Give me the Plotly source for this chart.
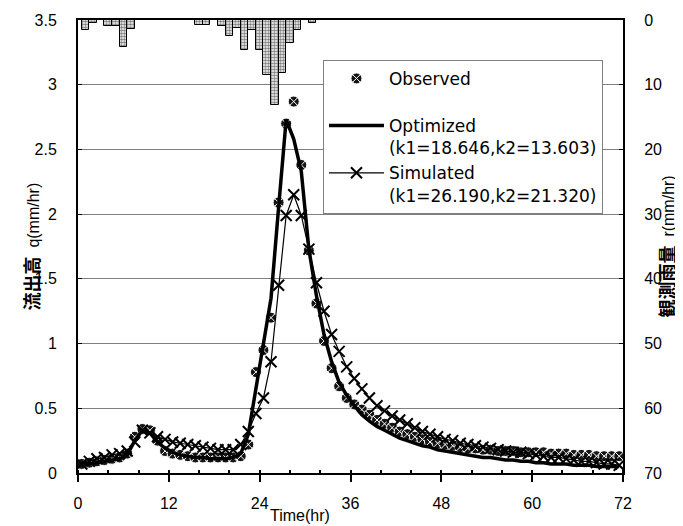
import plotly.graph_objects as go

# ---- data ----
time_hr = [i + 0.5 for i in range(72)]

observed = [0.07, 0.08, 0.09, 0.10, 0.11, 0.12, 0.15, 0.28, 0.34, 0.33,
            0.25, 0.17, 0.15, 0.14, 0.13, 0.12, 0.12, 0.12, 0.12, 0.12,
            0.12, 0.13, 0.22, 0.78, 0.95, 1.20, 2.09, 2.70, 2.87, 2.38,
            1.72, 1.31, 1.02, 0.81, 0.67, 0.58, 0.53, 0.49, 0.45, 0.41,
            0.38, 0.35, 0.32, 0.30, 0.28, 0.26, 0.24, 0.23, 0.22, 0.21,
            0.20, 0.19, 0.19, 0.18, 0.18, 0.17, 0.17, 0.17, 0.16, 0.16,
            0.16, 0.16, 0.15, 0.15, 0.15, 0.14, 0.14, 0.14, 0.13, 0.13,
            0.13, 0.13]

optimized = [0.06, 0.07, 0.08, 0.09, 0.10, 0.11, 0.14, 0.25, 0.33, 0.31,
             0.24, 0.19, 0.16, 0.14, 0.13, 0.12, 0.12, 0.11, 0.11, 0.11,
             0.12, 0.15, 0.30, 0.65, 1.00, 1.35, 2.05, 2.73, 2.58, 2.33,
             1.73, 1.37, 1.07, 0.86, 0.70, 0.60, 0.52, 0.45, 0.40, 0.36,
             0.33, 0.30, 0.27, 0.25, 0.23, 0.21, 0.20, 0.18, 0.17, 0.16,
             0.15, 0.14, 0.13, 0.12, 0.12, 0.11, 0.10, 0.10, 0.09, 0.09,
             0.08, 0.08, 0.07, 0.07, 0.07, 0.06, 0.06, 0.06, 0.05, 0.05,
             0.05, 0.05]

simulated = [0.07, 0.09, 0.11, 0.12, 0.14, 0.15, 0.17, 0.24, 0.33, 0.31,
             0.28, 0.26, 0.24, 0.23, 0.22, 0.21, 0.20, 0.19, 0.18, 0.18,
             0.18, 0.22, 0.32, 0.46, 0.58, 0.86, 1.45, 1.99, 2.15, 1.99,
             1.73, 1.47, 1.25, 1.07, 0.94, 0.82, 0.73, 0.65, 0.58, 0.52,
             0.48, 0.44, 0.41, 0.38, 0.35, 0.32, 0.30, 0.28, 0.26, 0.25,
             0.23, 0.22, 0.21, 0.20, 0.19, 0.18, 0.17, 0.16, 0.16, 0.15,
             0.14, 0.13, 0.12, 0.12, 0.11, 0.10, 0.09, 0.09, 0.08, 0.07,
             0.07, 0.06]

rain_hr = [1, 2, 4, 5, 6, 7, 16, 17, 19, 20, 21, 22, 23, 24, 25, 26, 27, 28, 29, 31]
rain_mm = [1.5, 0.5, 0.9, 0.9, 4.1, 1.4, 0.7, 0.7, 1.0, 2.5, 1.3, 4.6, 1.5, 4.6,
           8.5, 13.1, 8.2, 3.6, 1.5, 0.5]

x_ticks = [0, 12, 24, 36, 48, 60, 72]
q_ticks = [0, 0.5, 1, 1.5, 2, 2.5, 3, 3.5]
r_ticks = [0, 10, 20, 30, 40, 50, 60, 70]

FONT = "Liberation Sans, Arial, Noto Sans CJK JP, sans-serif"

fig = go.Figure()

fig.add_trace(go.Bar(
    x=rain_hr, y=rain_mm, yaxis="y2", width=1.0, showlegend=False,
    marker=dict(color="white", line=dict(color="black", width=1),
                pattern=dict(shape=".", fgcolor="black", bgcolor="white",
                             size=3, solidity=0.6)),
))

fig.add_trace(go.Scatter(
    x=time_hr, y=observed, mode="markers", name="Observed<br>\u00a0",
    marker=dict(symbol="circle-x", size=11, color="#151515",
                line=dict(color="white", width=1)),
))
fig.add_trace(go.Scatter(
    x=time_hr, y=optimized, mode="lines",
    name="Optimized<br>(k1=18.646,k2=13.603)",
    line=dict(color="black", width=3.5),
))
fig.add_trace(go.Scatter(
    x=time_hr, y=simulated, mode="lines+markers",
    name="Simulated<br>(k1=26.190,k2=21.320)",
    line=dict(color="black", width=1.2),
    marker=dict(symbol="x-thin", size=11, line=dict(color="black", width=2)),
))

# the page body adds an 8px offset; figure 675x518 at (8, 8) so that the
# plot area lands at x 78..623, y 20..473 of the 683x526 window
fig.update_layout(
    width=675, height=518,
    margin=dict(l=70, r=60, t=12, b=53, autoexpand=False),
    plot_bgcolor="white", paper_bgcolor="white",
    font=dict(family=FONT, size=16, color="black"),
    bargap=0,
    xaxis=dict(range=[0, 72], tickvals=x_ticks, ticks="outside", ticklen=7,
               tickwidth=1.5, tickcolor="black", showgrid=False, zeroline=False,
               showline=True, linecolor="black", linewidth=2, mirror=True,
               ticklabelstandoff=8, automargin=False,
               minor=dict(dtick=4, ticks="inside", ticklen=3, tickcolor="black")),
    yaxis=dict(range=[0, 3.5], tickvals=q_ticks, ticks="inside", ticklen=4,
               tickcolor="black", showgrid=True, gridcolor="#808080", gridwidth=1,
               zeroline=False, showline=True, linecolor="black", linewidth=2,
               ticklabelstandoff=16, automargin=False),
    yaxis2=dict(range=[70, 0], tickvals=r_ticks, overlaying="y", side="right",
                ticks="inside", ticklen=4, tickcolor="black", showgrid=False,
                zeroline=False, showline=True, linecolor="black", linewidth=2,
                ticklabelstandoff=16, automargin=False),
    legend=dict(x=0.4495, y=0.912, xanchor="left", yanchor="top",
                bgcolor="white", bordercolor="#808080", borderwidth=1,
                font=dict(family="DejaVu Sans, sans-serif", size=17),
                valign="top", itemwidth=55, traceorder="normal"),
    annotations=[
        dict(text="<b><span style='font-size:18px'>流出高</span></b>  q(mm/hr)",
             xref="paper", yref="paper", x=0, y=0.5, xshift=-46,
             textangle=-90, showarrow=False, xanchor="center", yanchor="middle",
             font=dict(family=FONT, size=16)),
        dict(text="<b><span style='font-size:18px'>観測雨量</span></b>  r(mm/hr)",
             xref="paper", yref="paper", x=1, y=0.5, xshift=44,
             textangle=-90, showarrow=False, xanchor="center", yanchor="middle",
             font=dict(family=FONT, size=16)),
        dict(text="Time(hr)", xref="paper", yref="paper", x=0.407, y=0,
             yshift=-42, showarrow=False, xanchor="center", yanchor="middle",
             font=dict(family=FONT, size=16)),
    ],
)

fig.write_html("out.html")
